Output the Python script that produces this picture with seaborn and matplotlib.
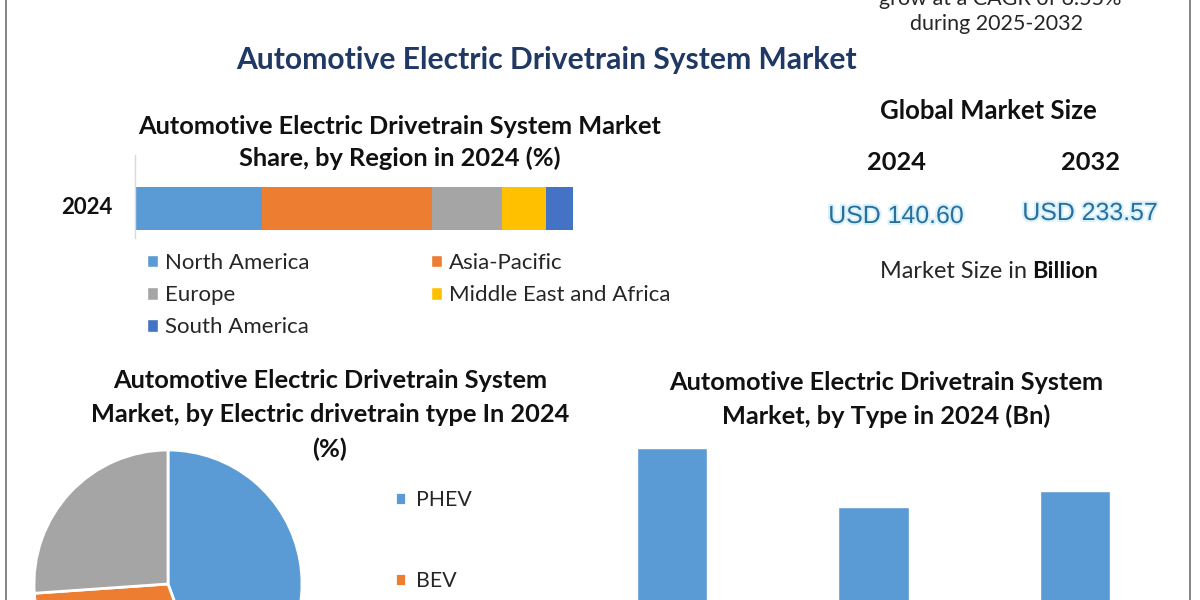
import matplotlib
matplotlib.use("Agg")
import matplotlib.pyplot as plt
import matplotlib.patheffects as pe
from matplotlib.lines import Line2D
from matplotlib.patches import Patch
import seaborn as sns
import pandas as pd

# ---------------- data ----------------
regions = ["North America", "Asia-Pacific", "Europe", "Middle East and Africa", "South America"]
region_share = [28.9, 38.9, 15.9, 10.2, 6.1]
region_colors = ["#5b9bd5", "#ed7d31", "#a5a5a5", "#ffc000", "#4472c4"]
bar_year = "2024"

drivetrain_types = ["PHEV", "BEV", "HEV"]
drivetrain_share = [44.4, 29.5, 26.1]
drivetrain_colors = ["#5b9bd5", "#ed7d31", "#a5a5a5"]

types = ["Type A", "Type B", "Type C"]
type_values = [54.2, 41.5, 44.9]

market_years = ["2024", "2032"]
market_values = ["USD 140.60", "USD 233.57"]

# ---------------- style ----------------
sns.set_theme(style="white")
plt.rcParams["font.family"] = ["Lato", "DejaVu Sans"]

W, H = 1200, 600
fig = plt.figure(figsize=(12, 6), dpi=100)
fig.patch.set_facecolor("white")


def fx(x):
    return x / W


def fy(y):
    return 1 - y / H


def rect(l, t, r, b):
    return [fx(l), fy(b), (r - l) / W, (b - t) / H]


# ---------------- frame lines ----------------
for xp in (6, 1190):
    fig.add_artist(Line2D([fx(xp), fx(xp)], [0, 1], transform=fig.transFigure,
                          color="#6f6f6f", lw=1.2))

# ---------------- header texts ----------------
fig.text(fx(1000), fy(5), "grow at a CAGR of 6.55%", ha="center", va="baseline",
         fontsize=15.5, color="#262626")
fig.text(fx(996), fy(30), "during 2025-2032", ha="center", va="baseline",
         fontsize=15.5, color="#262626")
fig.text(fx(546), fy(60), "Automotive Electric Drivetrain System Market", ha="center",
         va="center", fontsize=21.6, fontweight="bold", color="#1f3864")

# ---------------- stacked regional bar ----------------
fig.text(fx(400), fy(127), "Automotive Electric Drivetrain System Market", ha="center",
         va="center", fontsize=18.3, fontweight="bold", color="#111111")
fig.text(fx(400), fy(158), "Share, by Region in 2024 (%)", ha="center",
         va="center", fontsize=18.3, fontweight="bold", color="#111111")

ax1 = fig.add_axes(rect(135, 155, 573, 238))
df_reg = pd.DataFrame({"region": regions, "share": region_share})
left = 0.0
for reg, val, col in zip(df_reg["region"], df_reg["share"], region_colors):
    ax1.barh([0], [val], left=left, height=0.6, color=col, edgecolor="none", label=reg)
    left += val
ax1.set_xlim(0, 100)
ax1.set_ylim(-0.411, 0.746)
ax1.set_xticks([])
ax1.set_yticks([])
for s in ("top", "right", "bottom"):
    ax1.spines[s].set_visible(False)
ax1.spines["left"].set_color("#d9d9d9")
ax1.spines["left"].set_linewidth(1)
fig.text(fx(87), fy(208), bar_year, ha="center", va="center", fontsize=16,
         fontweight="bold", color="#111111")

# legend in two columns (row-major order of reference)
col1 = [0, 2, 4]
col2 = [1, 3]
for idxs, xl in ((col1, 147), (col2, 431)):
    hs = [Patch(facecolor=region_colors[i]) for i in idxs]
    ls = [regions[i] for i in idxs]
    fig.legend(hs, ls, loc="upper left", bbox_to_anchor=(fx(xl), fy(253)),
               frameon=False, fontsize=16, handlelength=0.5, handleheight=0.5,
               handletextpad=0.3, labelspacing=0.55, borderaxespad=0, borderpad=0,
               labelcolor="#262626")

# ---------------- market size panel ----------------
fig.text(fx(988), fy(111), "Global Market Size", ha="center", va="center",
         fontsize=18.5, fontweight="bold", color="#111111")
for yr, val, xc, yv in zip(market_years, market_values, (896, 1090), (216, 213)):
    fig.text(fx(xc), fy(162), yr, ha="center", va="center", fontsize=18.3,
             fontweight="bold", color="#111111")
    fig.text(fx(xc), fy(yv), val, ha="center", va="center", fontsize=17.9,
             family=["Liberation Sans", "DejaVu Sans"], color="#2a6f9c",
             path_effects=[pe.withStroke(linewidth=3, foreground="#d8f1fb")])
fig.text(fx(1027), fy(272), "Market Size in", ha="right", va="center",
         fontsize=16.9, color="#262626")
fig.text(fx(1032), fy(272), "Billion", ha="left", va="center",
         fontsize=16.9, fontweight="bold", color="#111111")

# ---------------- pie ----------------
for i, line in enumerate(["Automotive Electric Drivetrain System",
                          "Market, by Electric drivetrain type In 2024", "(%)"]):
    fig.text(fx(330), fy(381 + 34 * i), line, ha="center", va="center",
             fontsize=18.3, fontweight="bold", color="#111111")

r = 134
cx, cy = 168, 584
ax2 = fig.add_axes(rect(cx - r, cy - r, cx + r, cy + r))
wedges, _ = ax2.pie(drivetrain_share, colors=drivetrain_colors, startangle=90,
                    counterclock=False, radius=1,
                    wedgeprops=dict(edgecolor="white", linewidth=2))
ax2.set_xlim(-1, 1)
ax2.set_ylim(-1, 1)
ax2.set_aspect("equal")
fig.legend(wedges, drivetrain_types, loc="upper left", bbox_to_anchor=(fx(395), fy(490)),
           frameon=False, fontsize=15.3, handlelength=0.5, handleheight=0.5,
           handletextpad=0.5, labelspacing=2.87, borderaxespad=0, borderpad=0,
           labelcolor="#262626")

# ---------------- type bar chart ----------------
for i, line in enumerate(["Automotive Electric Drivetrain System",
                          "Market, by Type in 2024 (Bn)"]):
    fig.text(fx(886), fy(382 + 34 * i), line, ha="center", va="center",
             fontsize=18.3, fontweight="bold", color="#111111")

ax3 = fig.add_axes(rect(571.5, 440, 1175.5, 700))
df_t = pd.DataFrame({"type": types, "value": type_values})
sns.barplot(data=df_t, x="type", y="value", color="#5b9bd5", saturation=1,
            width=0.35, ax=ax3)
ax3.set_xlim(-0.5, 2.5)
ax3.set_ylim(0, 55.93)
ax3.set_xlabel("")
ax3.set_ylabel("")
ax3.set_yticks([])
ax3.set_xticks([])
for s in ax3.spines.values():
    s.set_visible(False)

fig.savefig("out.png", dpi=100, facecolor="white")
